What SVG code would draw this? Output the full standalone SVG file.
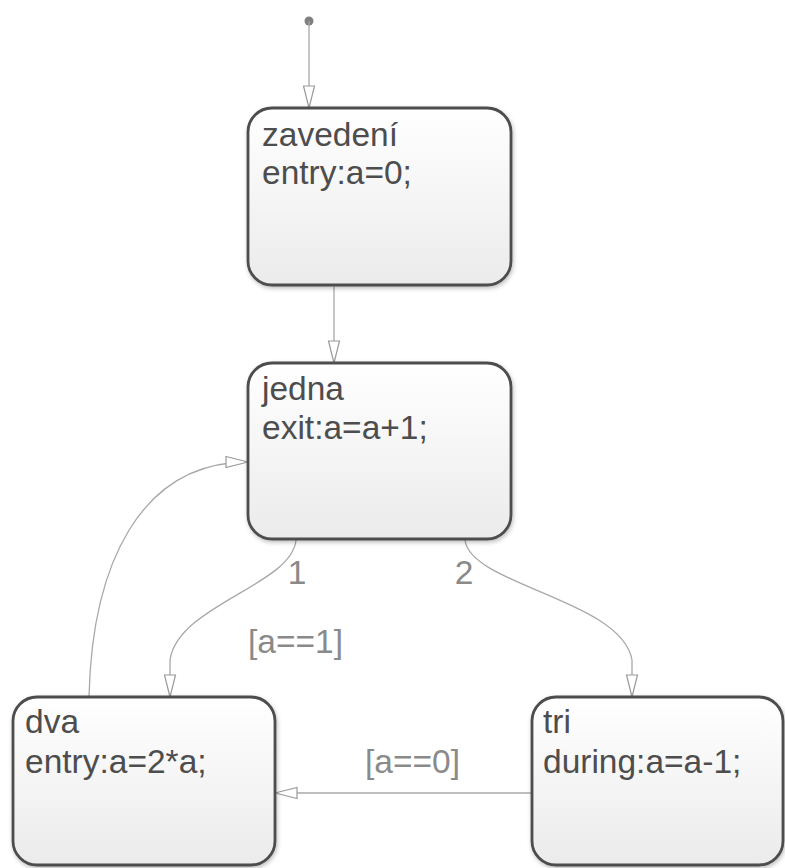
<svg xmlns="http://www.w3.org/2000/svg" width="785" height="868" viewBox="0 0 785 868">
  <defs>
    <linearGradient id="boxFill" x1="0" y1="0" x2="0" y2="1">
      <stop offset="0" stop-color="#ffffff"/>
      <stop offset="1" stop-color="#ebebeb"/>
    </linearGradient>
    <filter id="shadow" x="-10%" y="-10%" width="120%" height="120%">
      <feDropShadow dx="1" dy="2" stdDeviation="2" flood-color="#000" flood-opacity="0.25"/>
    </filter>
    <marker id="arrow" viewBox="0 0 24 14" refX="23" refY="7" markerWidth="24" markerHeight="14" markerUnits="userSpaceOnUse" orient="auto">
      <path d="M1,1.5 L23,7 L1,12.5 Z" fill="#ffffff" stroke="#9a9a9a" stroke-width="1.2"/>
    </marker>
    <style>
      .box { fill: url(#boxFill); stroke: #4d4d4d; stroke-width: 2.8; filter: url(#shadow); }
      .txt { font-family: "Liberation Sans", Arial, sans-serif; font-size: 33.5px; fill: #4d4d4d; }
      .lbl { font-family: "Liberation Sans", Arial, sans-serif; font-size: 33.5px; fill: #8a8a8a; }
      .conn { fill: none; stroke: #a8a8a8; stroke-width: 1.3; }
    </style>
  </defs>

  <g id="connectors">
    <circle cx="309" cy="21" r="4.5" fill="#808080"/>
    <path class="conn" d="M309,21 L309,108" marker-end="url(#arrow)"/>
    <path class="conn" d="M334,285 L334,363" marker-end="url(#arrow)"/>
    <path class="conn" d="M296,540 C292,585 178,605 170,660 L170,697" marker-end="url(#arrow)"/>
    <path class="conn" d="M465,540 C470,585 622,600 632,660 L632,697" marker-end="url(#arrow)"/>
    <path class="conn" d="M89,697 C92,565 140,462 248,462" marker-end="url(#arrow)"/>
    <path class="conn" d="M532,793 L275,793" marker-end="url(#arrow)"/>
    <text class="lbl" x="297" y="584" text-anchor="middle">1</text>
    <text class="lbl" x="464" y="584" text-anchor="middle">2</text>
    <text class="lbl" x="248" y="653">[a==1]</text>
    <text class="lbl" x="365" y="773">[a==0]</text>
  </g>

  <g id="zavedeni">
    <rect class="box" x="248" y="108" width="263" height="177" rx="24"/>
    <text class="txt" x="262" y="146">zavedení</text>
    <text class="txt" x="262" y="184">entry:a=0;</text>
  </g>

  <g id="jedna">
    <rect class="box" x="248" y="363" width="263" height="176" rx="24"/>
    <text class="txt" x="262" y="400">jedna</text>
    <text class="txt" x="262" y="439">exit:a=a+1;</text>
  </g>

  <g id="dva">
    <rect class="box" x="13" y="697" width="262" height="168" rx="24"/>
    <text class="txt" x="25" y="733">dva</text>
    <text class="txt" x="25" y="773">entry:a=2*a;</text>
  </g>

  <g id="tri">
    <rect class="box" x="532" y="697" width="251" height="168" rx="24"/>
    <text class="txt" x="543" y="733">tri</text>
    <text class="txt" x="543" y="773">during:a=a-1;</text>
  </g>
</svg>
